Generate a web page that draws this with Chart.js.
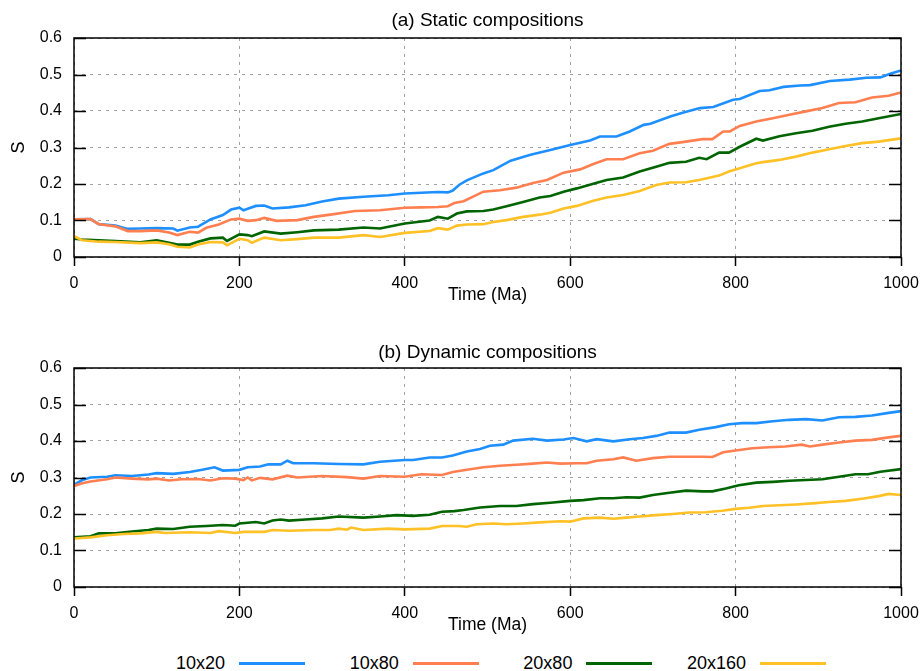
<!DOCTYPE html>
<html>
<head>
<meta charset="utf-8">
<title>S vs time</title>
<script src="https://cdn.jsdelivr.net/npm/chart.js@4.4.0/dist/chart.umd.min.js"></script>
<style>
  body { margin: 0; background: #fff; width: 920px; height: 671px; position: relative; overflow: hidden;
         font-family: "Liberation Sans", Arial, sans-serif; }
  .panel { position: absolute; left: 0; width: 920px; height: 310px; }
  #legend span.txt { position: absolute; width: 120px; text-align: right; font-size: 18px; line-height: 20px; color: #000; }
  #legend span.ln { position: absolute; width: 66px; height: 3px; }
</style>
</head>
<body>
<div class="panel" style="top:0"><canvas id="chartStatic" width="920" height="310"></canvas></div>
<div class="panel" style="top:330px"><canvas id="chartDynamic" width="920" height="310"></canvas></div>
<div id="legend"></div>
<script>
// ---- series names / colours ----
const seriesNames  = ['10x20', '10x80', '20x80', '20x160'];
const seriesColors = ['#1e8fff', '#ff7f50', '#006400', '#ffc125'];

// ---- axis ticks ----
const timeTicks = [0, 200, 400, 600, 800, 1000];
const sTicks    = [0, 0.1, 0.2, 0.3, 0.4, 0.5, 0.6];

// ---- (a) static compositions: time (Ma) / S ----
const aT_10x20 = [0, 20, 30, 50, 65, 80, 100, 120, 125, 140, 150, 165, 180, 190, 200, 205, 210, 220, 230, 240, 260, 280, 300, 320, 350, 380, 400, 420, 440, 452, 458, 466, 475, 495, 507, 528, 552, 576, 600, 624, 636, 656, 672, 689, 697, 721, 737, 757, 773, 797, 805, 829, 841, 858, 878, 890, 914, 938, 958, 975, 987, 1000];
const aS_10x20 = [0.103, 0.104, 0.09, 0.086, 0.077, 0.078, 0.079, 0.078, 0.072, 0.081, 0.083, 0.103, 0.115, 0.13, 0.135, 0.128, 0.132, 0.14, 0.141, 0.133, 0.136, 0.142, 0.152, 0.16, 0.165, 0.169, 0.174, 0.176, 0.178, 0.177, 0.182, 0.198, 0.21, 0.229, 0.238, 0.264, 0.28, 0.293, 0.307, 0.319, 0.33, 0.33, 0.344, 0.362, 0.365, 0.385, 0.396, 0.408, 0.411, 0.431, 0.433, 0.455, 0.457, 0.466, 0.47, 0.471, 0.482, 0.486, 0.491, 0.492, 0.502, 0.511];

const aT_10x80 = [0, 20, 30, 40, 50, 65, 80, 100, 115, 125, 140, 150, 160, 175, 190, 200, 210, 220, 230, 245, 270, 290, 310, 340, 370, 400, 420, 440, 452, 460, 471, 487, 495, 515, 535, 555, 572, 592, 612, 628, 644, 664, 684, 700, 720, 740, 760, 772, 785, 793, 805, 825, 845, 865, 885, 905, 925, 945, 965, 985, 1000];
const aS_10x80 = [0.103, 0.104, 0.09, 0.087, 0.084, 0.071, 0.071, 0.073, 0.067, 0.06, 0.069, 0.067, 0.08, 0.089, 0.103, 0.105, 0.099, 0.101, 0.107, 0.099, 0.101, 0.11, 0.116, 0.126, 0.128, 0.135, 0.136, 0.137, 0.139, 0.148, 0.153, 0.17, 0.179, 0.183, 0.19, 0.203, 0.211, 0.231, 0.24, 0.255, 0.268, 0.268, 0.284, 0.291, 0.31, 0.316, 0.323, 0.323, 0.344, 0.344, 0.359, 0.371, 0.38, 0.39, 0.399, 0.408, 0.422, 0.424, 0.437, 0.442, 0.451];

const aT_20x80 = [0, 10, 30, 50, 80, 100, 115, 125, 140, 150, 165, 180, 185, 200, 210, 215, 230, 250, 270, 290, 320, 350, 370, 400, 430, 440, 452, 463, 475, 495, 507, 523, 543, 563, 576, 592, 608, 628, 644, 664, 684, 704, 720, 740, 756, 765, 780, 792, 805, 825, 833, 853, 873, 893, 913, 933, 953, 973, 1000];
const aS_20x80 = [0.05, 0.048, 0.046, 0.044, 0.04, 0.046, 0.039, 0.034, 0.034, 0.042, 0.051, 0.053, 0.044, 0.062, 0.06, 0.057, 0.07, 0.064, 0.068, 0.073, 0.075, 0.081, 0.078, 0.092, 0.1, 0.11, 0.105, 0.119, 0.125, 0.126, 0.13, 0.139, 0.151, 0.163, 0.167, 0.179, 0.188, 0.201, 0.211, 0.218, 0.234, 0.247, 0.258, 0.261, 0.272, 0.268, 0.286, 0.286, 0.302, 0.324, 0.319, 0.331, 0.339, 0.346, 0.357, 0.365, 0.371, 0.38, 0.392];

const aT_20x160 = [0, 10, 30, 50, 80, 100, 115, 125, 140, 150, 165, 180, 185, 200, 210, 215, 230, 250, 270, 290, 320, 350, 370, 400, 430, 440, 452, 463, 475, 495, 507, 523, 543, 563, 576, 592, 608, 628, 644, 664, 684, 704, 720, 740, 756, 780, 792, 805, 825, 833, 853, 873, 893, 913, 933, 953, 973, 1000];
const aS_20x160 = [0.057, 0.046, 0.042, 0.041, 0.038, 0.04, 0.035, 0.028, 0.026, 0.034, 0.041, 0.04, 0.032, 0.05, 0.046, 0.039, 0.053, 0.046, 0.049, 0.053, 0.053, 0.06, 0.055, 0.066, 0.071, 0.079, 0.075, 0.086, 0.089, 0.09, 0.096, 0.101, 0.11, 0.116, 0.121, 0.133, 0.14, 0.154, 0.163, 0.17, 0.181, 0.197, 0.204, 0.205, 0.211, 0.223, 0.234, 0.243, 0.257, 0.26, 0.266, 0.275, 0.286, 0.295, 0.304, 0.312, 0.316, 0.325];

// ---- (b) dynamic compositions: time (Ma) / S ----
const bT_10x20 = [0, 10, 20, 40, 50, 70, 90, 100, 120, 140, 155, 170, 180, 200, 210, 225, 235, 250, 258, 265, 290, 320, 350, 370, 400, 410, 430, 445, 458, 475, 491, 503, 519, 531, 555, 572, 592, 604, 620, 632, 652, 672, 688, 704, 720, 740, 756, 776, 792, 808, 825, 845, 865, 885, 905, 925, 945, 965, 985, 1000];
const bS_10x20 = [0.28, 0.293, 0.3, 0.302, 0.306, 0.304, 0.308, 0.312, 0.31, 0.315, 0.321, 0.328, 0.319, 0.321, 0.328, 0.33, 0.336, 0.336, 0.346, 0.339, 0.339, 0.337, 0.336, 0.343, 0.348, 0.348, 0.355, 0.355, 0.36, 0.371, 0.378, 0.387, 0.39, 0.401, 0.406, 0.401, 0.404, 0.408, 0.399, 0.405, 0.399, 0.405, 0.408, 0.414, 0.423, 0.423, 0.431, 0.438, 0.446, 0.449, 0.449, 0.454, 0.458, 0.46, 0.456, 0.465, 0.466, 0.47, 0.477, 0.482];

const bT_10x80 = [0, 10, 20, 40, 50, 70, 90, 100, 115, 130, 150, 165, 180, 195, 205, 210, 215, 225, 240, 258, 270, 300, 330, 350, 370, 400, 420, 445, 458, 475, 495, 515, 535, 555, 572, 588, 608, 620, 632, 652, 664, 680, 700, 720, 740, 760, 772, 785, 800, 820, 840, 860, 880, 890, 905, 925, 945, 965, 985, 1000];
const bS_10x80 = [0.277, 0.284, 0.289, 0.295, 0.3, 0.297, 0.295, 0.297, 0.292, 0.295, 0.296, 0.292, 0.298, 0.297, 0.293, 0.3, 0.292, 0.299, 0.295, 0.305, 0.3, 0.304, 0.301, 0.297, 0.304, 0.302, 0.309, 0.307, 0.315, 0.321, 0.328, 0.332, 0.335, 0.338, 0.341, 0.338, 0.339, 0.339, 0.346, 0.35, 0.355, 0.346, 0.353, 0.357, 0.357, 0.357, 0.356, 0.369, 0.374, 0.38, 0.383, 0.385, 0.39, 0.385, 0.39, 0.396, 0.401, 0.403, 0.41, 0.414];

const bT_20x80 = [0, 20, 30, 50, 70, 90, 100, 120, 140, 160, 180, 195, 200, 220, 230, 240, 250, 260, 280, 300, 320, 350, 370, 390, 410, 430, 445, 460, 471, 491, 515, 535, 555, 576, 600, 616, 636, 652, 668, 684, 700, 720, 740, 760, 772, 788, 804, 825, 845, 865, 885, 905, 925, 945, 960, 975, 1000];
const bS_20x80 = [0.136, 0.139, 0.147, 0.147, 0.152, 0.156, 0.16, 0.159, 0.165, 0.167, 0.17, 0.168, 0.174, 0.178, 0.174, 0.182, 0.185, 0.182, 0.185, 0.188, 0.193, 0.19, 0.193, 0.197, 0.195, 0.198, 0.206, 0.208, 0.211, 0.218, 0.222, 0.222, 0.227, 0.231, 0.236, 0.238, 0.243, 0.243, 0.246, 0.245, 0.252, 0.258, 0.264, 0.262, 0.262, 0.27, 0.279, 0.286, 0.288, 0.291, 0.293, 0.295, 0.302, 0.309, 0.309, 0.316, 0.323];

const bT_20x160 = [0, 20, 40, 60, 80, 100, 110, 140, 165, 175, 195, 205, 230, 240, 260, 290, 310, 320, 330, 335, 350, 380, 400, 430, 445, 465, 475, 487, 507, 523, 543, 563, 588, 600, 616, 636, 652, 668, 684, 704, 724, 744, 764, 784, 800, 816, 833, 853, 873, 893, 913, 933, 953, 973, 985, 1000];
const bS_20x160 = [0.133, 0.136, 0.142, 0.145, 0.147, 0.151, 0.148, 0.15, 0.148, 0.153, 0.148, 0.151, 0.151, 0.156, 0.154, 0.156, 0.156, 0.16, 0.157, 0.163, 0.156, 0.16, 0.158, 0.16, 0.167, 0.167, 0.165, 0.172, 0.174, 0.172, 0.174, 0.177, 0.18, 0.179, 0.188, 0.19, 0.187, 0.19, 0.193, 0.197, 0.2, 0.204, 0.205, 0.209, 0.214, 0.217, 0.222, 0.224, 0.226, 0.229, 0.233, 0.236, 0.242, 0.249, 0.255, 0.252];

// ------------------------------------------------------------
const FONT = '"Liberation Sans", Arial, sans-serif';
Chart.defaults.font.family = FONT;
Chart.defaults.color = '#000';

const pts = (t, s) => t.map((v, i) => ({ x: v, y: s[i] }));

// frame + inward y ticks + panel title (centred on plot area)
const framePlugin = {
    id: 'frame',
    afterDraw(chart, args, opts) {
        const { ctx, chartArea: a, scales: { y } } = chart;
        ctx.save();
        ctx.strokeStyle = '#000';
        ctx.lineWidth = 1.5;
        ctx.beginPath();
        sTicks.forEach(v => {
            const py = Math.round(y.getPixelForValue(v)) + 0.5;
            ctx.moveTo(a.left, py);  ctx.lineTo(a.left + 12, py);
            ctx.moveTo(a.right - 12, py); ctx.lineTo(a.right, py);
        });
        ctx.stroke();
        ctx.strokeRect(a.left, a.top, a.right - a.left, a.bottom - a.top);
        ctx.fillStyle = '#000';
        ctx.font = '19px ' + FONT;
        ctx.textAlign = 'center';
        ctx.textBaseline = 'middle';
        ctx.fillText(opts.text, (a.left + a.right) / 2, opts.y);
        ctx.restore();
    }
};

function makeChart(id, title, titleY, times, values) {
    return new Chart(document.getElementById(id), {
        type: 'line',
        data: {
            datasets: seriesNames.map((name, i) => ({
                label: name,
                data: pts(times[i], values[i]),
                borderColor: seriesColors[i],
                borderWidth: 2.6,
                pointRadius: 0,
                tension: 0,
                fill: false,
                order: seriesNames.length - i,
            })),
        },
        options: {
            responsive: false,
            animation: false,
            events: [],
            layout: { padding: { left: 0, right: 19, top: 38, bottom: 0 } },
            plugins: {
                legend: { display: false },
                tooltip: { enabled: false },
                frame: { text: title, y: titleY },
            },
            scales: {
                x: {
                    type: 'linear', min: 0, max: 1000,
                    afterBuildTicks: s => { s.ticks = timeTicks.map(v => ({ value: v })); },
                    ticks: { font: { size: 16 }, padding: 8, callback: v => String(v), maxRotation: 0 },
                    grid: { color: '#a0a0a0', lineWidth: 1, tickLength: 9, tickColor: '#000', tickWidth: 1.5 },
                    border: { display: false, dash: [3, 5] },
                    title: { display: true, text: 'Time (Ma)', font: { size: 17.5 }, padding: { top: 0, bottom: 4 } },
                    afterFit: s => { s.height = 53; s.paddingLeft = 0; s.paddingRight = 0; },
                },
                y: {
                    min: 0, max: 0.6,
                    afterBuildTicks: s => { s.ticks = sTicks.map(v => ({ value: v })); },
                    ticks: { font: { size: 16 }, padding: 12, callback: v => String(v) },
                    grid: { color: '#a0a0a0', lineWidth: 1, drawTicks: false },
                    border: { display: false, dash: [3, 5] },
                    title: { display: true, text: 'S', font: { size: 18 }, padding: { top: 8, bottom: 0 } },
                    afterFit: s => { s.width = 74; s.paddingTop = 0; s.paddingBottom = 0; },
                },
            },
        },
        plugins: [framePlugin],
    });
}

makeChart('chartStatic', '(a) Static compositions', 21,
    [aT_10x20, aT_10x80, aT_20x80, aT_20x160],
    [aS_10x20, aS_10x80, aS_20x80, aS_20x160]);

makeChart('chartDynamic', '(b) Dynamic compositions', 23,
    [bT_10x20, bT_10x80, bT_20x80, bT_20x160],
    [bS_10x20, bS_10x80, bS_20x80, bS_20x160]);

// ---- legend: label then line sample ----
const legendEl = document.getElementById('legend');
legendEl.innerHTML = seriesNames.map((name, i) => {
    const lx = 239 + i * 173.7;
    return `<span class="txt" style="left:${lx - 14 - 120}px;top:653px">${name}</span>` +
           `<span class="ln" style="left:${lx}px;top:662px;background:${seriesColors[i]}"></span>`;
}).join('');
</script>
</body>
</html>
